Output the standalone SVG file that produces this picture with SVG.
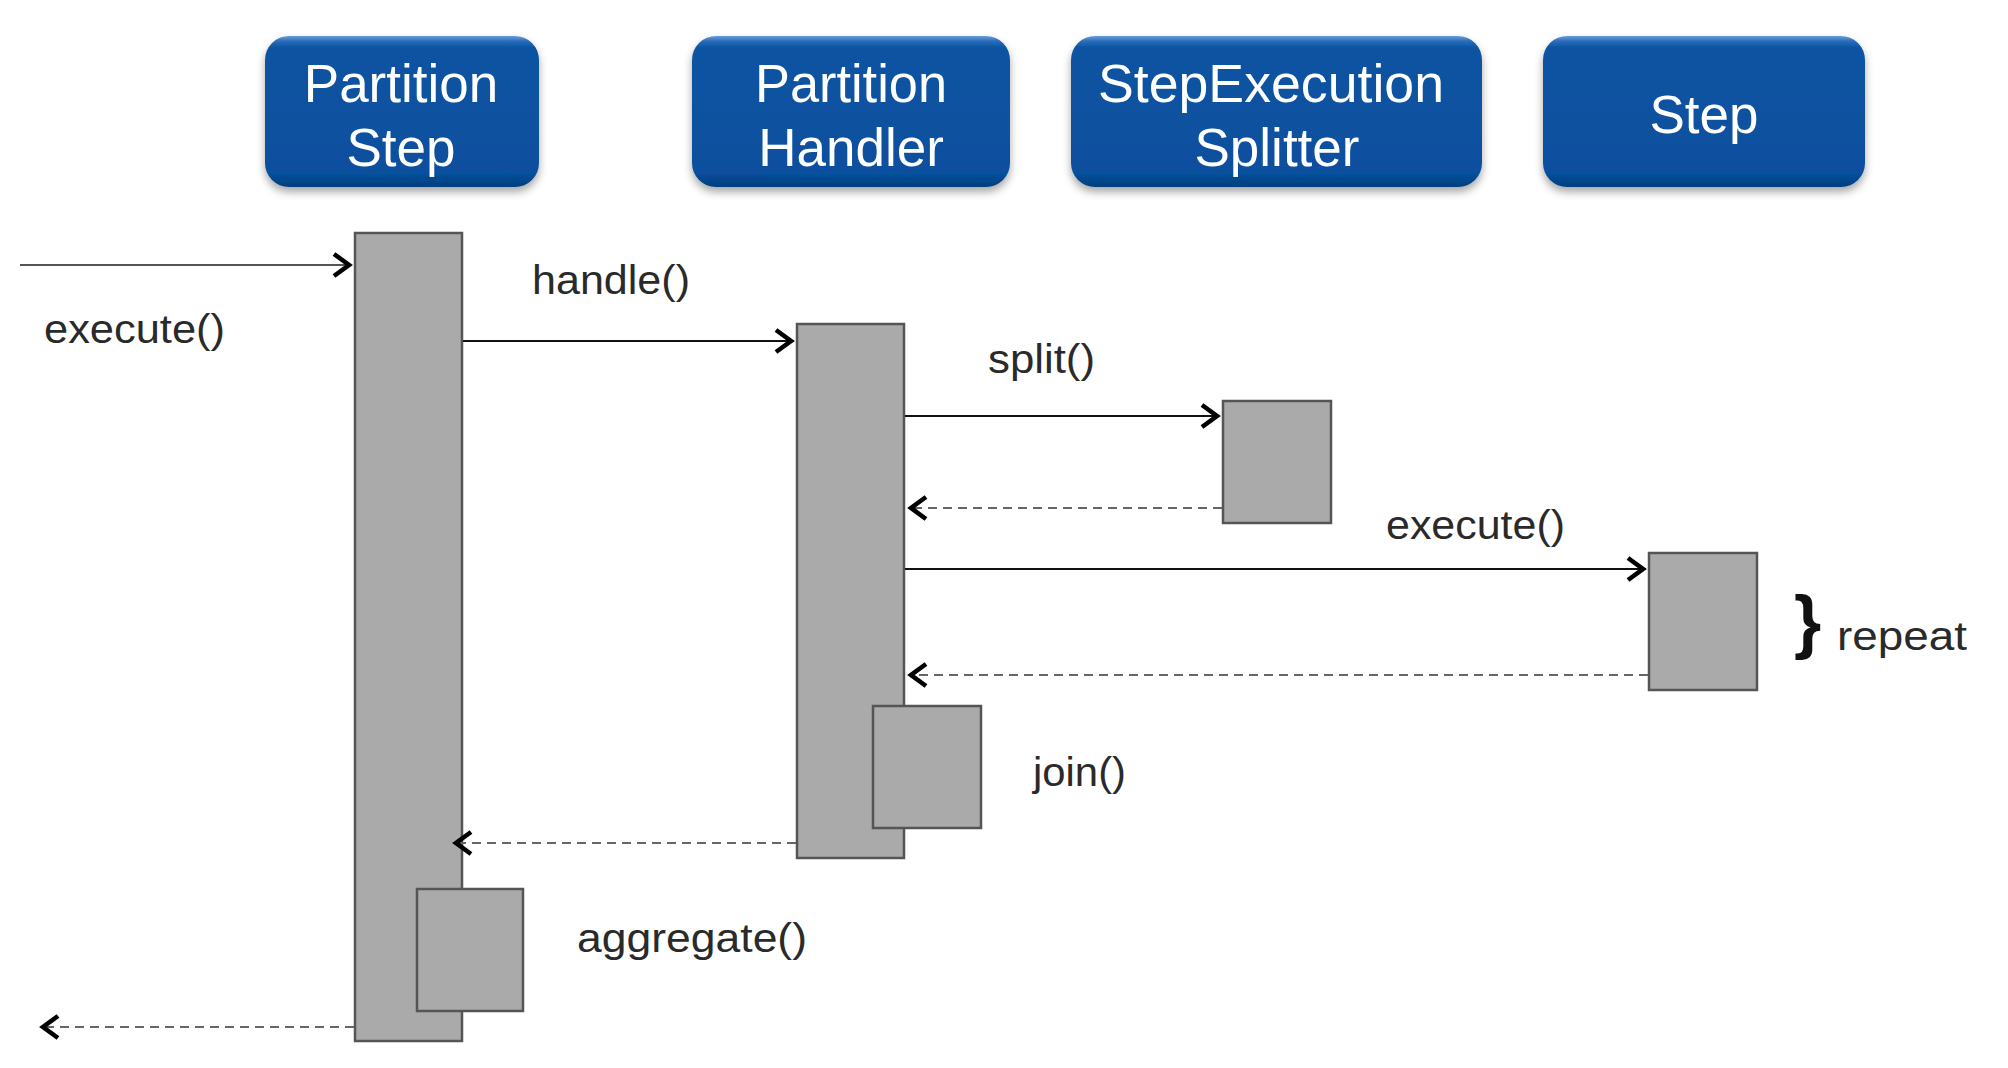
<svg xmlns="http://www.w3.org/2000/svg" width="2008" height="1068" viewBox="0 0 2008 1068">
<style>
.hdr{filter:url(#shadow)}
.hdr rect{fill:url(#blue)}
.hdr text{font-family:"Liberation Sans",Arial,sans-serif;font-size:53px;fill:#fff;text-anchor:middle}
.bar{fill:#aaaaaa;stroke:#555;stroke-width:2.5}
.lbl{font-family:"Liberation Sans",Arial,sans-serif;font-size:40px;fill:#2a2a2a}
.call{fill:none;stroke:#111;stroke-width:2.2;marker-end:url(#arr)}
.ret{fill:none;stroke:#666;stroke-width:2.2;stroke-dasharray:9 6;marker-end:url(#arr)}
</style>
<defs>
<linearGradient id="blue" x1="0" y1="0" x2="0" y2="1">
<stop offset="0" stop-color="#6b9fe0"/>
<stop offset="0.035" stop-color="#2a6bb8"/>
<stop offset="0.08" stop-color="#0853a2"/>
<stop offset="0.9" stop-color="#07509e"/>
<stop offset="1" stop-color="#053f7e"/>
</linearGradient>
<filter id="shadow" x="-10%" y="-10%" width="120%" height="130%">
<feDropShadow dx="0" dy="5" stdDeviation="4" flood-color="#000" flood-opacity="0.35"/>
</filter>
<marker id="arr" markerUnits="userSpaceOnUse" markerWidth="40" markerHeight="40" viewBox="-20 -20 40 40" refX="2" refY="0" orient="auto" overflow="visible">
<path d="M-15,-11 L0,0 L-15,11" fill="none" stroke="#000" stroke-width="4.6"/>
</marker>
</defs>

<g id="partition-step-header" class="hdr">
<rect x="265" y="36" width="274" height="151" rx="24"/>
<text x="401" y="102">Partition</text>
<text x="401" y="166">Step</text>
</g>
<g id="partition-handler-header" class="hdr">
<rect x="692" y="36" width="318" height="151" rx="24"/>
<text x="851" y="102" textLength="192" lengthAdjust="spacingAndGlyphs">Partition</text>
<text x="851" y="166">Handler</text>
</g>
<g id="splitter-header" class="hdr">
<rect x="1071" y="36" width="411" height="151" rx="24"/>
<text x="1271" y="102" textLength="346" lengthAdjust="spacingAndGlyphs">StepExecution</text>
<text x="1277" y="166">Splitter</text>
</g>
<g id="step-header" class="hdr">
<rect x="1543" y="36" width="322" height="151" rx="24"/>
<text x="1704" y="133">Step</text>
</g>

<g id="partition-step-activation">
<rect class="bar" x="355" y="233" width="107" height="808"/>
</g>
<g id="aggregate-activation">
<rect class="bar" x="417" y="889" width="106" height="122"/>
</g>
<g id="partition-handler-activation">
<rect class="bar" x="797" y="324" width="107" height="534"/>
</g>
<g id="join-activation">
<rect class="bar" x="873" y="706" width="108" height="122"/>
</g>
<g id="splitter-activation">
<rect class="bar" x="1223" y="401" width="108" height="122"/>
</g>
<g id="step-activation">
<rect class="bar" x="1649" y="553" width="108" height="137"/>
</g>

<g id="connectors">
<line x1="20" y1="265" x2="351" y2="265" class="call" style="stroke:#555"/>
<text class="lbl" x="44" y="343" textLength="181" lengthAdjust="spacingAndGlyphs">execute()</text>

<line x1="463" y1="341" x2="793" y2="341" class="call"/>
<text class="lbl" x="532" y="294" textLength="158" lengthAdjust="spacingAndGlyphs">handle()</text>

<line x1="905" y1="416" x2="1219" y2="416" class="call"/>
<text class="lbl" x="988" y="373" textLength="107" lengthAdjust="spacingAndGlyphs">split()</text>

<line x1="1222" y1="508" x2="909" y2="508" class="ret"/>

<line x1="905" y1="569" x2="1645" y2="569" class="call"/>
<text class="lbl" x="1386" y="539" textLength="179" lengthAdjust="spacingAndGlyphs">execute()</text>

<line x1="1648" y1="675" x2="909" y2="675" class="ret"/>

<text class="lbl" x="1033" y="786" textLength="93" lengthAdjust="spacingAndGlyphs">join()</text>

<line x1="796" y1="843" x2="454" y2="843" class="ret"/>

<text class="lbl" x="577" y="952" textLength="230" lengthAdjust="spacingAndGlyphs">aggregate()</text>

<line x1="354" y1="1027" x2="41" y2="1027" class="ret"/>

<text x="1794" y="645" style="font-family:'Liberation Sans',Arial,sans-serif;font-size:70px;font-weight:bold;fill:#111">}</text>
<text class="lbl" x="1837" y="650" textLength="130" lengthAdjust="spacingAndGlyphs">repeat</text>
</g>
</svg>
